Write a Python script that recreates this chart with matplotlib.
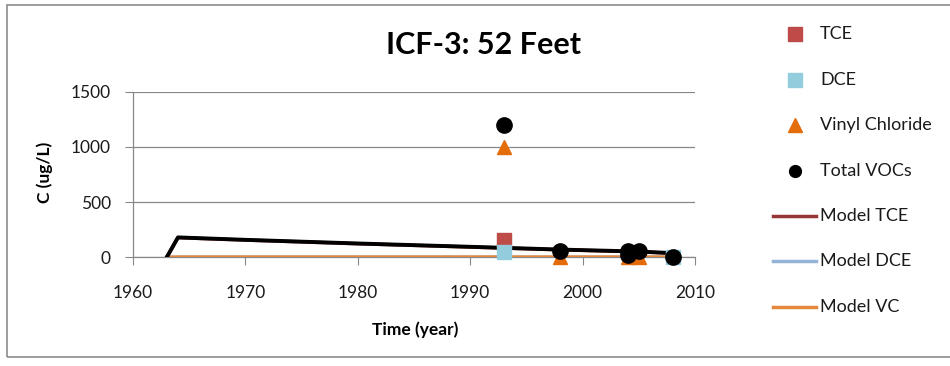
import matplotlib
matplotlib.use("Agg")
import matplotlib.pyplot as plt
from matplotlib.lines import Line2D
from matplotlib.patches import Rectangle

plt.rcParams['font.family'] = ['Lato', 'DejaVu Sans']

# Observed concentrations (ug/L)
tce_years = [1993]
tce_vals = [160]
dce_years = [1993, 2008]
dce_vals = [50, 0]
vc_years = [1993, 1998, 2004, 2005]
vc_vals = [1000, 0, 0, 0]
voc_years = [1993, 1998, 2004, 2004, 2005, 2008]
voc_vals = [1200, 55, 55, 25, 55, 0]

# Model curves
model_years = [1963, 1964, 1970, 1980, 1990, 1998, 2005, 2008]
model_total = [0, 180, 158, 125, 95, 70, 52, 38]
model_tce = [0, 178, 156, 123, 93, 68, 50, 36]
model_dce = [0, 1, 1, 1, 1, 1, 1, 1]
model_vc = [0, 2, 2, 2, 2, 2, 2, 2]

x_ticks = [1960, 1970, 1980, 1990, 2000, 2010]
y_ticks = [0, 500, 1000, 1500]

W, H = 950, 366
fig = plt.figure(figsize=(W / 100, H / 100), dpi=100)
ax = fig.add_axes([133 / W, 1 - 257.3 / H, 562 / W, 165.8 / H])

c_tce, c_dce, c_vc = '#BE4B48', '#93CDDD', '#E46C0A'
c_mtce, c_mdce, c_mvc = '#953735', '#95B3D7', '#E5883D'

ax.plot(model_years, model_tce, color=c_mtce, lw=2.5, zorder=3)
ax.plot(model_years, model_dce, color=c_mdce, lw=2.5, zorder=3)
ax.plot(model_years, model_vc, color=c_mvc, lw=2.5, zorder=3)
ax.plot(model_years, model_total, color='black', lw=2.8, zorder=4)

ax.plot(tce_years, tce_vals, 's', color=c_tce, ms=10, zorder=5, clip_on=False)
ax.plot(dce_years, dce_vals, 's', color=c_dce, ms=10, zorder=5, clip_on=False)
ax.plot(vc_years, vc_vals, '^', color=c_vc, ms=10, zorder=6, clip_on=False)
ax.plot(voc_years, voc_vals, 'o', color='black', ms=11, zorder=7, clip_on=False)

ax.set_xlim(1960, 2010)
ax.set_ylim(0, 1500)
ax.set_xticks(x_ticks)
ax.set_yticks(y_ticks)
ax.tick_params(axis='both', labelsize=12.5, colors='#888888', labelcolor='#1a1a1a')
ax.tick_params(axis='x', direction='out', length=6, pad=14)
ax.tick_params(axis='y', direction='out', length=6, pad=10)
ax.grid(axis='y', color='#888888', lw=0.9)
ax.set_axisbelow(True)
for s in ['top', 'right']:
    ax.spines[s].set_visible(False)
for s in ['left', 'bottom']:
    ax.spines[s].set_color('#888888')
    ax.spines[s].set_linewidth(0.9)

fig.text(415.5 / W, 1 - 330 / H, 'Time (year)', fontsize=12.5, fontweight='bold',
         ha='center', va='center')
fig.text(45 / W, 1 - 172 / H, 'C (ug/L)', fontsize=12.5, fontweight='bold',
         ha='center', va='center', rotation=90)
fig.text(484 / W, 1 - 45 / H, 'ICF-3: 52 Feet', fontsize=22, fontweight='bold',
         ha='center', va='center')

# Legend drawn in figure pixel coordinates
legend_labels = ['TCE', 'DCE', 'Vinyl Chloride', 'Total VOCs',
                 'Model TCE', 'Model DCE', 'Model VC']
legend_y = [34, 80, 125, 171, 216, 261, 307]
marker_specs = [('s', c_tce, 9.5), ('s', c_dce, 9.5), ('^', c_vc, 9.5), ('o', 'black', 8.5)]
line_colors = [c_mtce, c_mdce, c_mvc]
for i, (lab, yy) in enumerate(zip(legend_labels, legend_y)):
    yf = 1 - yy / H
    if i < 4:
        m, c, s = marker_specs[i]
        fig.add_artist(Line2D([795 / W], [yf], ls='none', marker=m, color=c, ms=s,
                              transform=fig.transFigure))
    else:
        fig.add_artist(Line2D([773 / W, 816 / W], [yf, yf], color=line_colors[i - 4],
                              lw=2.5, transform=fig.transFigure))
    fig.text(820 / W, yf, lab, fontsize=13, ha='left', va='center', color='#1a1a1a')

fig.patches.append(Rectangle((7 / W, 9 / H), 1.0, 1 - 14 / H, transform=fig.transFigure,
                             fill=False, edgecolor='#8c8c8c', lw=1.2))

fig.savefig('out.png', dpi=100)
